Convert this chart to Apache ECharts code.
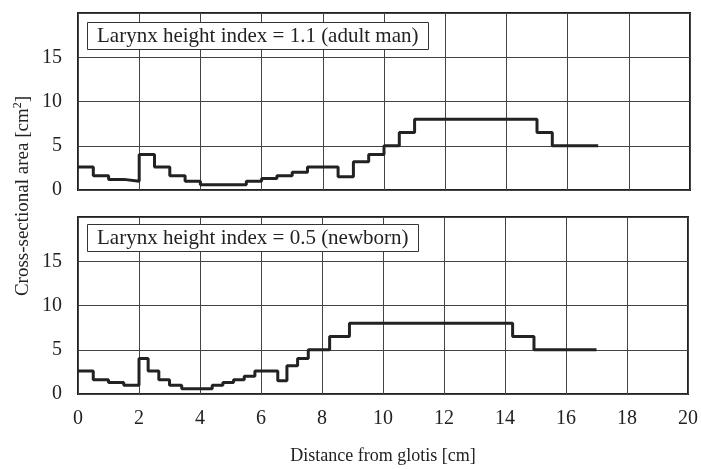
<!DOCTYPE html>
<html>
<head>
<meta charset="utf-8">
<script src="https://cdn.jsdelivr.net/npm/echarts@6/dist/echarts.min.js"></script>
<style>
  html, body { margin: 0; padding: 0; background: #fff; }
  #chart { width: 701px; height: 469px; }
</style>
</head>
<body>
<div id="chart"></div>
<script>
  // step positions [cm] and cross-sectional areas [cm2]
  const adultX = [0, 0.5, 1, 1.5, 2, 2.5, 3, 3.5, 4, 5.5, 6, 6.5, 7, 7.5, 8.5, 9, 9.5, 10, 10.5, 11, 15, 15.5, 17];
  const adultArea = [2.6, 1.6, 1.2, 1.0, 4.0, 2.6, 1.6, 1.0, 0.6, 1.0, 1.3, 1.6, 2.0, 2.6, 1.5, 3.2, 4.0, 5.0, 6.5, 8.0, 6.5, 5.0, 5.0];
  const newbornX = [0, 0.5, 1, 1.5, 2, 2.3, 2.65, 3, 3.4, 4.4, 4.75, 5.1, 5.45, 5.8, 6.55, 6.85, 7.2, 7.55, 8.25, 8.9, 14.25, 14.95, 17];
  const newbornArea = [2.6, 1.6, 1.3, 1.0, 4.0, 2.6, 1.6, 1.0, 0.6, 1.0, 1.3, 1.6, 2.0, 2.6, 1.5, 3.2, 4.0, 5.0, 6.5, 8.0, 6.5, 5.0, 5.0];
  const panelTitles = ["Larynx height index = 1.1 (adult man)", "Larynx height index = 0.5 (newborn)"];

  const font = "Liberation Serif";
  const ink = "#222";

  function pairs(xs, ys) {
    return xs.map((x, i) => [x, ys[i]]);
  }

  function xAxisFor(gridIndex, withLabels) {
    return {
      type: "value",
      gridIndex: gridIndex,
      min: 0,
      max: 20,
      interval: 2,
      axisLine: { show: false },
      axisTick: { show: false },
      axisLabel: { show: withLabels, fontFamily: font, fontSize: 20, color: ink, margin: 15 },
      splitLine: { show: true, lineStyle: { color: "#444", width: 1 } },
      name: withLabels ? "Distance from glotis [cm]" : "",
      nameLocation: "middle",
      nameGap: 53,
      nameTextStyle: { fontFamily: font, fontSize: 18, color: ink },
    };
  }

  function yAxisFor(gridIndex) {
    return {
      type: "value",
      gridIndex: gridIndex,
      min: 0,
      max: 20,
      interval: 5,
      axisLine: { show: false },
      axisTick: { show: false },
      axisLabel: { fontFamily: font, fontSize: 20, color: ink, margin: 16, showMaxLabel: false },
      splitLine: { show: true, lineStyle: { color: "#444", width: 1 } },
    };
  }

  function stepSeries(idx, xs, ys) {
    return {
      type: "line",
      xAxisIndex: idx,
      yAxisIndex: idx,
      step: "end",
      showSymbol: false,
      lineStyle: { color: ink, width: 3 },
      data: pairs(xs, ys),
      z: 3,
    };
  }

  function boxTitle(text, top) {
    return {
      text: text,
      left: 87,
      top: top,
      padding: [4, 10, 3, 10],
      borderColor: "#333",
      borderWidth: 1,
      backgroundColor: "#fff",
      textStyle: { fontFamily: font, fontSize: 21, fontWeight: "normal", color: ink },
    };
  }

  const myChart = echarts.init(document.getElementById("chart"), null, { renderer: "canvas" });
  myChart.setOption({
    animation: false,
    title: [boxTitle(panelTitles[0], 22), boxTitle(panelTitles[1], 224)],
    grid: [
      { left: 78, top: 13, width: 612, height: 177, show: true, borderColor: ink, borderWidth: 2 },
      { left: 78, top: 217, width: 612, height: 177, show: true, borderColor: ink, borderWidth: 2 },
    ],
    xAxis: [xAxisFor(0, false), xAxisFor(1, true)],
    yAxis: [yAxisFor(0), yAxisFor(1)],
    series: [stepSeries(0, adultX, adultArea), stepSeries(1, newbornX, newbornArea)],
    graphic: [
      {
        type: "text",
        rotation: Math.PI / 2,
        x: 23,
        y: 196,
        style: {
          text: "{a|Cross-sectional area [cm}{s|2}{a|]}",
          align: "center",
          verticalAlign: "middle",
          rich: {
            a: { fontFamily: font, fontSize: 19, fill: ink, color: ink },
            s: { fontFamily: font, fontSize: 12, fill: ink, color: ink, verticalAlign: "top", padding: [0, 0, 10, 0] },
          },
        },
      },
    ],
  });
</script>
</body>
</html>
